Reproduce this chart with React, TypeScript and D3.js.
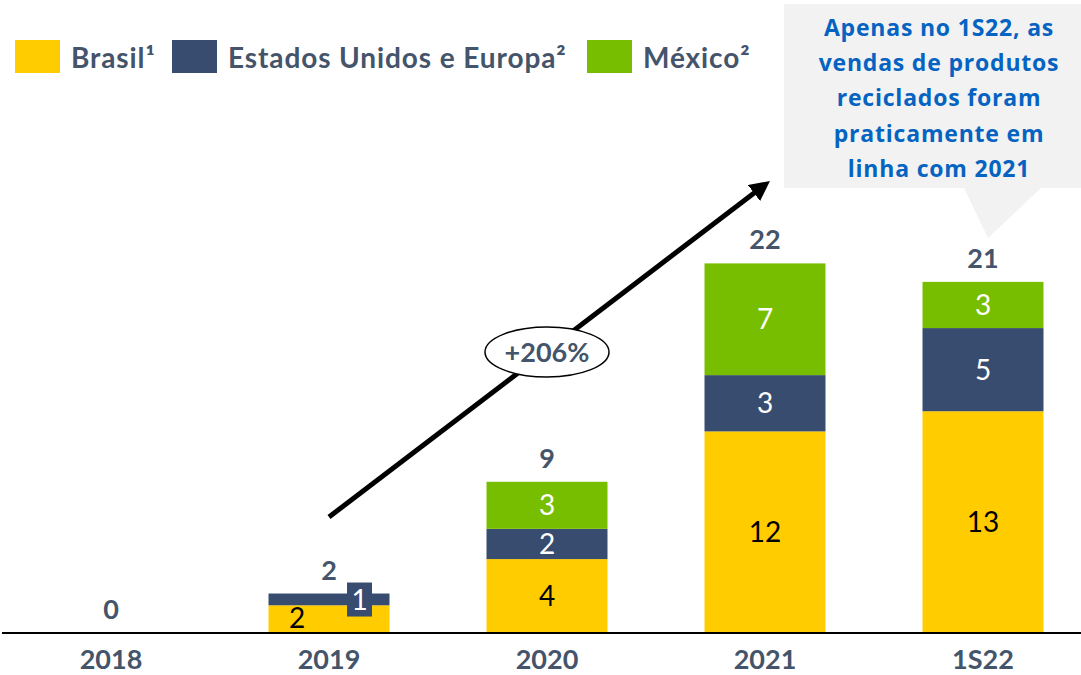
import * as d3 from "d3";
import React from "react";

// recycled product sales by region
const categories = ["2018", "2019", "2020", "2021", "1S22"];
const seriesNames = ["Brasil¹", "Estados Unidos e Europa²", "México²"];
const brasil = [0, 1.65, 4.4, 12.0, 13.2];
const eua = [0, 0.7, 1.8, 3.35, 4.95];
const mexico = [0, 0, 2.8, 6.65, 2.75];
const totalLabels = ["0", "2", "9", "22", "21"];
const brasilLabels = ["", "2", "4", "12", "13"];
const euaLabels = ["", "1", "2", "3", "5"];
const mexicoLabels = ["", "", "3", "7", "3"];
const growthLabel = "+206%";
const calloutLines = [
  "Apenas no 1S22, as",
  "vendas de produtos",
  "reciclados foram",
  "praticamente em",
  "linha com 2021",
];

const colors = ["#FFCC00", "#374C6E", "#78BE00"];
const slate = "#44546A";
const font = "Lato, 'Open Sans', sans-serif";

const W = 1081;
const H = 675;

const App: React.FC = () => {
  const x = d3.scaleBand<string>().domain(categories).range([2, 1092]).paddingInner(0.445).paddingOuter(0.2225);
  const y = d3.scaleLinear().domain([0, 22]).range([633, 263.4]);

  const rows = categories.map((c, i) => ({ cat: c, brasil: brasil[i], eua: eua[i], mexico: mexico[i] }));
  const stack = d3.stack<any>().keys(["brasil", "eua", "mexico"])(rows);
  const segLabels = [brasilLabels, euaLabels, mexicoLabels];
  const bw = x.bandwidth();

  const arrowStart = { x: x("2019")! + bw / 2, y: 517 };
  const arrowEnd = { x: 762, y: 187 };
  const mid = { x: x("2020")! + bw / 2, y: 352 };

  return (
    <svg width={W} height={H} style={{ position: "absolute", left: 0, top: 0, background: "#fff" }} fontFamily={font}>
      <defs>
        <marker id="ah" viewBox="0 0 10 10" refX="5" refY="5" markerWidth="4" markerHeight="4" orient="auto">
          <path d="M0,0 L10,5 L0,10 z" fill="#000" />
        </marker>
      </defs>

      {/* callout */}
      <path d="M784,4 H1081 V188 H1041 L988,238 L964,188 H784 Z" fill="#F2F2F2" />
      {calloutLines.map((t, i) => (
        <text key={t} x={939} y={36 + i * 35.2} textAnchor="middle" fontSize={23} fontWeight="bold" fill="#0563C1"
          fontFamily="'Open Sans', sans-serif" letterSpacing={0.8}>
          {t}
        </text>
      ))}

      {/* legend */}
      {seriesNames.map((s, i) => {
        const lx = [15, 172, 587][i];
        return (
          <g key={s}>
            <rect x={lx} y={40} width={45} height={33} fill={colors[i]} />
            <text x={lx + 56} y={68} fontSize={28} fontWeight="bold" fill={slate} letterSpacing={0.9}>
              {s}
            </text>
          </g>
        );
      })}

      {/* bars */}
      {stack.map((layer, si) => (
        <g key={si}>
          {layer.map((d, i) => {
            const h = y(d[0]) - y(d[1]);
            if (h <= 0) return null;
            const cx = x(categories[i])! + bw / 2;
            const lbl = segLabels[si][i];
            const special = categories[i] === "2019";
            return (
              <g key={i}>
                <rect x={x(categories[i])} y={y(d[1])} width={bw} height={h} fill={colors[si]} />
                {lbl && !special && (
                  <text x={cx} y={(y(d[0]) + y(d[1])) / 2 + 10} textAnchor="middle" fontSize={28}
                    fill={si === 0 ? "#000" : "#fff"}>
                    {lbl}
                  </text>
                )}
                {lbl && special && si === 0 && (
                  <text x={cx - 32} y={y(0) - 5} textAnchor="middle" fontSize={28} fill="#000">
                    {lbl}
                  </text>
                )}
                {lbl && special && si === 1 && (
                  <g>
                    <rect x={cx + 18} y={y(d[1]) - 11} width={25} height={34} fill={colors[1]} />
                    <text x={cx + 30.5} y={y(d[1]) + 16} textAnchor="middle" fontSize={28} fill="#fff">
                      {lbl}
                    </text>
                  </g>
                )}
              </g>
            );
          })}
        </g>
      ))}

      {/* totals */}
      {categories.map((c, i) => (
        <text key={c} x={x(c)! + bw / 2} y={y(brasil[i] + eua[i] + mexico[i]) - 14} textAnchor="middle"
          fontSize={27} fontWeight="bold" fill={slate}>
          {totalLabels[i]}
        </text>
      ))}

      {/* baseline */}
      <line x1={2} x2={W} y1={y(0)} y2={y(0)} stroke="#000" strokeWidth={2} />

      {/* category labels */}
      {categories.map((c) => (
        <text key={c} x={x(c)! + bw / 2} y={669} textAnchor="middle" fontSize={27} fontWeight="bold" fill={slate}>
          {c}
        </text>
      ))}

      {/* growth arrow */}
      <line x1={arrowStart.x} y1={arrowStart.y} x2={arrowEnd.x} y2={arrowEnd.y} stroke="#000" strokeWidth={5}
        markerEnd="url(#ah)" />
      <ellipse cx={mid.x} cy={mid.y} rx={62} ry={25} fill="#fff" stroke="#000" strokeWidth={1.5} />
      <text x={mid.x} y={mid.y + 10} textAnchor="middle" fontSize={27} fontWeight="bold" fill={slate}>
        {growthLabel}
      </text>
    </svg>
  );
};

export default App;
